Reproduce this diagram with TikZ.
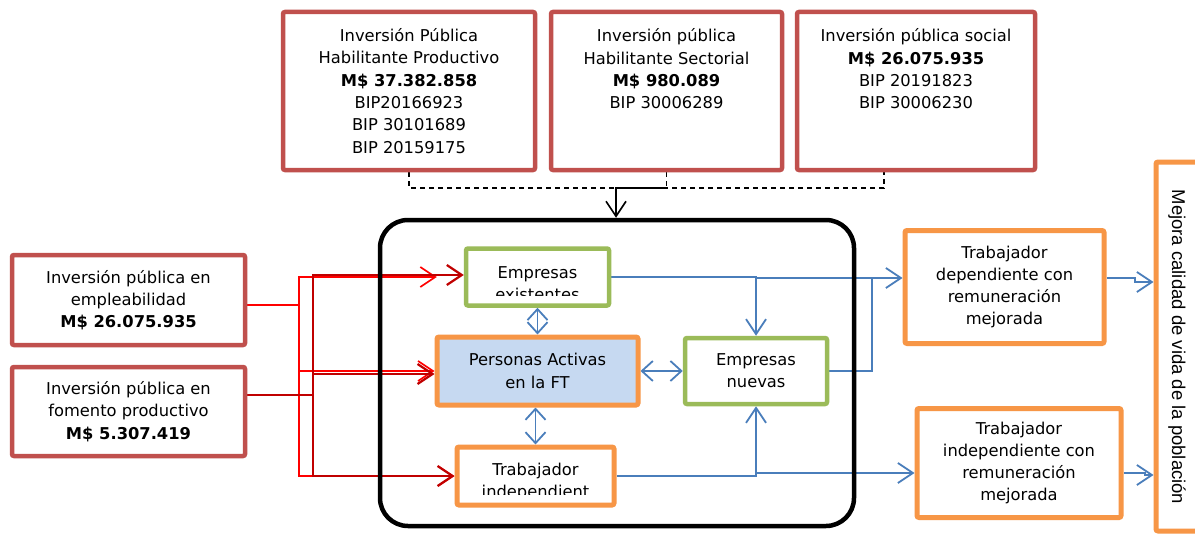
\documentclass[tikz,border=0pt]{standalone}
\usepackage{fontspec}
\setmainfont{DejaVu Sans}
\newfontfamily\arialf{Liberation Sans}
\usetikzlibrary{arrows.meta,backgrounds}
\definecolor{bred}{HTML}{C0504D}
\definecolor{bgreen}{HTML}{9BBB59}
\definecolor{borange}{HTML}{F79646}
\definecolor{lblue}{HTML}{4A7EBB}
\definecolor{pfill}{HTML}{C6D9F1}
\definecolor{dred}{HTML}{C00000}
\definecolor{rred}{HTML}{FF0000}
\tikzset{
 txt/.style={align=center,inner sep=0pt,font=\fontsize{16.3}{22.3}\selectfont},
 redbox/.style={draw=bred,line width=4.5pt,rounded corners=2pt,inner sep=0pt,txt},
 greenbox/.style={draw=bgreen,line width=4.5pt,rounded corners=2pt,inner sep=0pt,txt},
 orangebox/.style={draw=borange,line width=5pt,rounded corners=2pt,inner sep=0pt,txt},
 frame/.style={draw=black,line width=4.5pt,rounded corners=28pt,inner sep=0pt},
 tip/.style={-{Straight Barb[length=15pt,width=20pt]}},
 dbl/.style={{Straight Barb[length=11pt,width=20pt]}-{Straight Barb[length=11pt,width=20pt]}},
 bline/.style={draw=lblue,line width=1.8pt},
 rline/.style={draw=rred,line width=1.6pt},
 dline/.style={draw=dred,line width=2.2pt},
 dsh/.style={draw=black,line width=1.4pt,dash pattern=on 5pt off 4pt},
 kline/.style={draw=black,line width=1.6pt}
}
\begin{document}
\begin{tikzpicture}[x=1pt,y=-1pt]
\clip (0,0) rectangle (1195,535);
% top boxes
\node[redbox,minimum width=252,minimum height=158] (A) at (409,91)
 {Inversión Pública\\Habilitante Productivo\\\textbf{M\$ 37.382.858}\\BIP20166923\\BIP 30101689\\BIP 20159175};
\node[redbox,minimum width=231,minimum height=158] (B) at (666.5,91) {};
\node[txt] (Bt) at (666.5,69) {Inversión pública\\Habilitante Sectorial\\\textbf{M\$ 980.089}\\BIP 30006289};
\node[redbox,minimum width=238,minimum height=158] (C) at (916,91) {};
\node[txt] (Ct) at (916,69) {Inversión pública social\\\textbf{M\$ 26.075.935}\\BIP 20191823\\BIP 30006230};
% left boxes
\node[redbox,minimum width=233,minimum height=90] (L1) at (128.5,300)
 {Inversión pública en\\empleabilidad\\\textbf{M\$ 26.075.935}};
\node[redbox,minimum width=233,minimum height=89] (L2) at (128.5,411.5)
 {Inversión pública en\\fomento productivo\\\textbf{M\$ 5.307.419}};
% frame
\node[frame,minimum width=474,minimum height=306] (FT) at (617,373) {};
% inner nodes
\node[greenbox,minimum width=143,minimum height=57] (EE) at (537.5,277) {};
\begin{scope}
\clip (EE.north west) rectangle ([yshift=12pt]EE.south east);
\node[txt] (EEt) at (537.5,284) {Empresas\\existentes};
\end{scope}
\node[orangebox,fill=pfill,minimum width=201,minimum height=68] (PA) at (537.5,371)
 {Personas Activas\\en la FT};
\node[greenbox,minimum width=142,minimum height=66] (EN) at (756,371) {Empresas\\nuevas};
\node[orangebox,minimum width=157,minimum height=58] (TI) at (535.5,476) {};
\begin{scope}
\clip (TI.north west) rectangle ([yshift=13pt]TI.south east);
\node[txt] (TIt) at (535.5,482) {Trabajador\\independient};
\end{scope}
% right boxes
\node[orangebox,minimum width=199,minimum height=113] (TD) at (1004.5,287)
 {Trabajador\\dependiente con\\remuneración\\mejorada};
\node[orangebox,minimum width=204,minimum height=109] (TIR) at (1019,463)
 {Trabajador\\independiente con\\remuneración\\mejorada};
\node[orangebox,minimum width=57,minimum height=369] (MC) at (1184.5,346.5) {};
\node[rotate=-90,inner sep=0pt,font=\arialf\fontsize{18.5}{22}\selectfont] (MCt) at (1177,347)
 {Mejora calidad de vida de la población};
% coordinates
\coordinate (dm) at (616,188);
\coordinate (dc) at (884,172);
\coordinate (r1x) at (299,0);
\coordinate (r2x) at (313,0);
\coordinate (bx) at (756,0);
\coordinate (ex) at (872,0);
\coordinate (L1out) at (L1.east |- 0,305);
\coordinate (L2out) at (L2.east |- 0,395);
\coordinate (TDin) at (TD.west |- 0,278);
\coordinate (TDout) at (TD.east |- 0,278);
\coordinate (TIRin) at (TIR.west |- 0,473);
\coordinate (TIRout) at (TIR.east |- 0,473);
\coordinate (mx) at (1135,0);
\coordinate (my) at (1145,0);
\begin{scope}[on background layer]
\fill[white] (0,0) rectangle (1195,535);
% dashed collector
\draw[dsh] (A.south) |- (dm) -| (dc);
\draw[dsh] (B.south) -- (B.south |- dm);
\draw[kline,tip] (B.south |- dm) -| (FT.north -| dm);
% red connectors from L1
\draw[rline,tip] (L1out) -| (r1x |- EE.west) -- ([xshift=-27pt]EE.west);
\draw[rline,tip] (L1out) -| (r1x |- PA.west) -- (PA.west);
\draw[rline,tip] (L1out) -| (r1x |- TI.west) -- (TI.west);
% red connectors from L2
\draw[dline,tip] (L2out) -| ([yshift=2pt]r2x |- EE.west) -- ([yshift=2pt]EE.west);
\draw[dline,tip] (L2out) -| ([yshift=-3pt]r2x |- PA.west) -- ([yshift=-3pt]PA.west);
\draw[dline,tip] (L2out) -| (r2x |- TI.west) -- (TI.west);
% blue connectors
\draw[bline,tip] (EE.east) -- (bx |- EE.east) |- (TDin);
\draw[bline,tip] (bx |- EE.east) -- (EN.north);
\draw[bline] (EN.east) -| (ex |- TDin);
\draw[bline,tip] (TI.east) -- (bx |- TI.east) |- (TIRin);
\draw[bline,tip] (bx |- TI.east) -- (EN.south);
\draw[bline,dbl] (EE.south) -- (PA.north);
\draw[bline,dbl] (PA.east) -- (EN.west);
\draw[bline,dbl] (PA.south -| TI.north) -- (TI.north);
\draw[bline,tip] (TDout) -- (mx |- TDout) -- (mx |- 0,282) -- (MC.west |- 0,282);
\draw[bline,tip] (TIRout) -- (my |- TIRout) -- (my |- 0,475) -- (MC.west |- 0,475);
\end{scope}
\end{tikzpicture}
\end{document}
